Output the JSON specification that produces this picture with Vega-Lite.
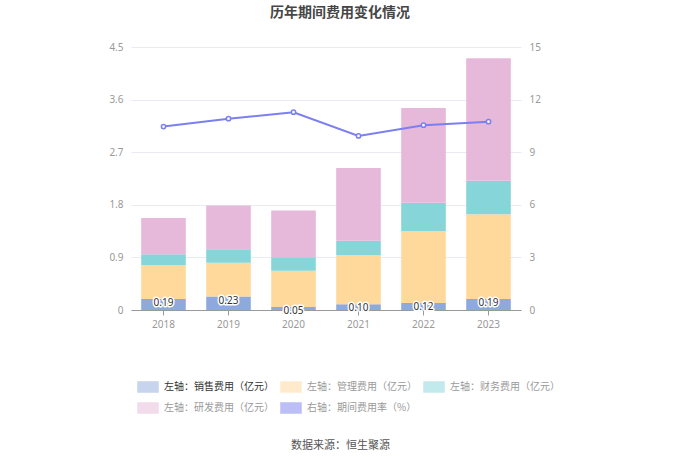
{
  "$schema": "https://vega.github.io/schema/vega-lite/v6.json",
  "width": 390,
  "height": 263,
  "autosize": {"type": "none"},
  "padding": {"left": 131, "top": 47, "right": 159, "bottom": 150},
  "background": "white",
  "title": {
    "text": "历年期间费用变化情况",
    "font": "Noto Sans CJK SC",
    "fontSize": 14,
    "fontWeight": "bold",
    "color": "#464646",
    "anchor": "middle",
    "dx": 14,
    "offset": 22
  },
  "config": {
    "view": {"stroke": null},
    "font": "Noto Sans CJK SC"
  },
  "datasets": {
    "costs": [
      {"year": "2018", "type": "左轴：销售费用（亿元）", "value": 0.19},
      {"year": "2018", "type": "左轴：管理费用（亿元）", "value": 0.575},
      {"year": "2018", "type": "左轴：财务费用（亿元）", "value": 0.19},
      {"year": "2018", "type": "左轴：研发费用（亿元）", "value": 0.62},
      {"year": "2019", "type": "左轴：销售费用（亿元）", "value": 0.23},
      {"year": "2019", "type": "左轴：管理费用（亿元）", "value": 0.58},
      {"year": "2019", "type": "左轴：财务费用（亿元）", "value": 0.23},
      {"year": "2019", "type": "左轴：研发费用（亿元）", "value": 0.75},
      {"year": "2020", "type": "左轴：销售费用（亿元）", "value": 0.05},
      {"year": "2020", "type": "左轴：管理费用（亿元）", "value": 0.62},
      {"year": "2020", "type": "左轴：财务费用（亿元）", "value": 0.234},
      {"year": "2020", "type": "左轴：研发费用（亿元）", "value": 0.80},
      {"year": "2021", "type": "左轴：销售费用（亿元）", "value": 0.10},
      {"year": "2021", "type": "左轴：管理费用（亿元）", "value": 0.836},
      {"year": "2021", "type": "左轴：财务费用（亿元）", "value": 0.25},
      {"year": "2021", "type": "左轴：研发费用（亿元）", "value": 1.244},
      {"year": "2022", "type": "左轴：销售费用（亿元）", "value": 0.12},
      {"year": "2022", "type": "左轴：管理费用（亿元）", "value": 1.232},
      {"year": "2022", "type": "左轴：财务费用（亿元）", "value": 0.484},
      {"year": "2022", "type": "左轴：研发费用（亿元）", "value": 1.621},
      {"year": "2023", "type": "左轴：销售费用（亿元）", "value": 0.19},
      {"year": "2023", "type": "左轴：管理费用（亿元）", "value": 1.448},
      {"year": "2023", "type": "左轴：财务费用（亿元）", "value": 0.575},
      {"year": "2023", "type": "左轴：研发费用（亿元）", "value": 2.094}
    ],
    "rate": [
      {"year": "2018", "rate": 10.46},
      {"year": "2019", "rate": 10.91},
      {"year": "2020", "rate": 11.28},
      {"year": "2021", "rate": 9.93},
      {"year": "2022", "rate": 10.54},
      {"year": "2023", "rate": 10.74}
    ]
  },
  "encoding": {
    "x": {
      "field": "year",
      "type": "nominal",
      "scale": {"paddingInner": 0.314, "paddingOuter": 0.157},
      "axis": {
        "labelAngle": 0,
        "labelColor": "#999999",
        "labelFontSize": 10,
        "labelFont": "Noto Sans",
        "labelPadding": 4,
        "domainColor": "#9a9a9a",
        "tickColor": "#9a9a9a",
        "tickSize": 5,
        "title": "数据来源：恒生聚源",
        "titleFontSize": 11,
        "titleFontWeight": "normal",
        "titleColor": "#555555",
        "titlePadding": 110,
        "titleX": 209
      }
    }
  },
  "layer": [
    {
      "data": {"name": "costs"},
      "encoding": {
        "y": {
          "field": "value",
          "type": "quantitative",
          "scale": {"domain": [0, 4.5]},
          "axis": {
            "values": [0, 0.9, 1.8, 2.7, 3.6, 4.5],
            "labelExpr": "'' + datum.value",
            "title": null,
            "domain": false,
            "ticks": false,
            "labelColor": "#999999",
            "labelFontSize": 10,
            "labelFont": "Noto Sans",
            "labelPadding": 8,
            "gridColor": "#e8ebf3"
          }
        }
      },
      "layer": [
        {
          "transform": [
            {"calculate": "indexof(['左轴：销售费用（亿元）', '左轴：管理费用（亿元）', '左轴：财务费用（亿元）', '左轴：研发费用（亿元）'], datum.type)", "as": "stackOrder"}
          ],
          "mark": {"type": "bar"},
          "encoding": {
            "y": {"field": "value", "type": "quantitative", "stack": "zero"},
            "order": {"field": "stackOrder", "type": "quantitative"},
            "color": {
              "field": "type",
              "type": "nominal",
              "scale": {
                "domain": ["左轴：销售费用（亿元）", "左轴：管理费用（亿元）", "左轴：财务费用（亿元）", "左轴：研发费用（亿元）", "右轴：期间费用率（%）"],
                "range": ["#8eaadc", "#ffd99b", "#86d5d9", "#e6b8d9", "#7b7ff0"]
              },
              "legend": {
                "orient": "none",
                "legendX": 6,
                "legendY": 329,
                "direction": "horizontal",
                "columns": 3,
                "gridAlign": "all",
                "columnPadding": 4,
                "rowPadding": 2,
                "title": null,
                "labelFontSize": 10,
                "labelOffset": 5,
                "labelLimit": 200,
                "symbolType": "M-1,-0.5h2v1h-2z",
                "symbolSize": 400,
                "symbolOpacity": 0.5,
                "encode": {
                  "labels": {
                    "update": {
                      "fill": {"signal": "datum.label == '左轴：销售费用（亿元）' ? '#333333' : '#9a9a9a'"}
                    }
                  }
                }
              }
            }
          }
        },
        {
          "transform": [{"filter": "datum.type == '左轴：销售费用（亿元）'"}],
          "mark": {"type": "text", "baseline": "middle", "dy": 4, "fontSize": 10, "font": "Noto Sans", "stroke": "white", "strokeWidth": 3, "fill": "white", "strokeJoin": "round"},
          "encoding": {
            "text": {"field": "value", "type": "quantitative", "format": ".2f"}
          }
        },
        {
          "transform": [{"filter": "datum.type == '左轴：销售费用（亿元）'"}],
          "mark": {"type": "text", "baseline": "middle", "dy": 4, "fontSize": 10, "font": "Noto Sans", "fill": "#333333"},
          "encoding": {
            "text": {"field": "value", "type": "quantitative", "format": ".2f"}
          }
        }
      ]
    },
    {
      "data": {"name": "rate"},
      "mark": {"type": "line", "strokeWidth": 2, "point": {"filled": false, "fill": "white", "size": 18, "strokeWidth": 1.5}},
      "encoding": {
        "y": {
          "field": "rate",
          "type": "quantitative",
          "scale": {"domain": [0, 15]},
          "axis": {
            "orient": "right",
            "values": [0, 3, 6, 9, 12, 15],
            "title": null,
            "grid": false,
            "domain": false,
            "ticks": false,
            "labelColor": "#999999",
            "labelFontSize": 10,
            "labelFont": "Noto Sans",
            "labelPadding": 8
          }
        },
        "color": {"datum": "右轴：期间费用率（%）", "legend": null}
      }
    }
  ],
  "resolve": {"scale": {"y": "independent"}}
}
